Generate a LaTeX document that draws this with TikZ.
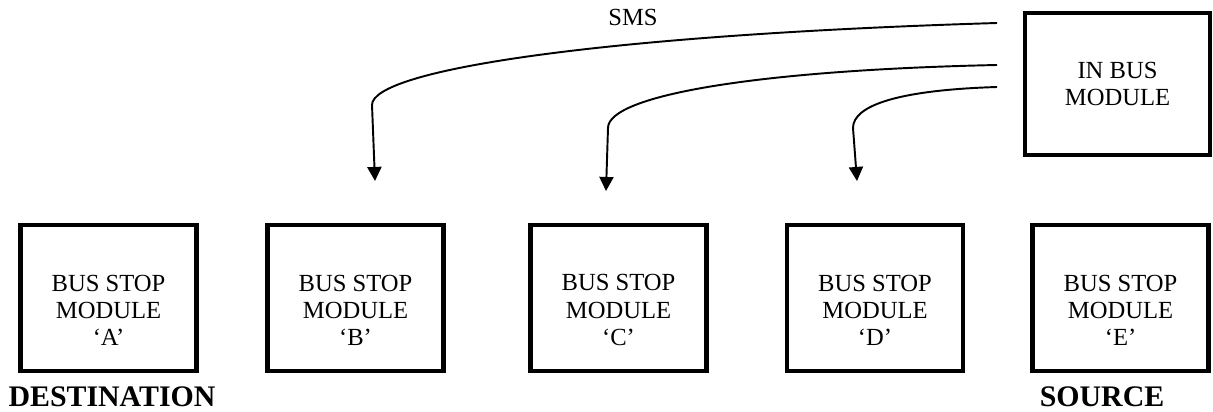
\documentclass[tikz,border=0pt]{standalone}
\usepackage{fontspec}
\setmainfont{Liberation Serif}
\usetikzlibrary{arrows.meta}
\begin{document}
\begin{tikzpicture}[x=0.02cm,y=-0.02cm,
  txt/.style={align=center,font=\fontsize{14}{15.6}\selectfont,inner sep=0pt},
  modbox/.style={draw,line width=2.4pt,txt},
  stopbox/.style={draw,line width=2.4pt,minimum width=3.52cm,minimum height=2.92cm,inner sep=0pt},
  stoptext/.style={txt,yshift=-7pt},
  sms/.style={line width=1.1pt,-{Triangle[length=8pt,width=8pt]}},
  caption/.style={font=\fontsize{17}{20}\selectfont\bfseries,inner sep=0pt}]
\useasboundingbox (0,0) rectangle (1213,412);
\node[modbox,minimum width=3.7cm,minimum height=2.84cm] (bus) at (1117.5,84) {IN BUS\\MODULE};
\node[stopbox,label={[stoptext,name=At]center:{BUS STOP\\MODULE\\`A'}}] (A) at (108.5,298) {};
\node[stopbox,label={[stoptext,name=Bt]center:{BUS STOP\\MODULE\\`B'}}] (B) at (355.5,298) {};
\node[stopbox,label={[stoptext,name=Ct]center:{BUS STOP\\MODULE\\`C'}}] (C) at (618.5,298) {};
\node[stopbox,label={[stoptext,name=Dt]center:{BUS STOP\\MODULE\\`D'}}] (D) at (875,298) {};
\node[stopbox,label={[stoptext,name=Et]center:{BUS STOP\\MODULE\\`E'}}] (E) at (1120.5,298) {};
\node[caption] (dest) at (112,397) {DESTINATION};
\node[caption] (src) at (1102,397) {SOURCE};
\node[txt] (smslbl) at (633,17) {SMS};
\coordinate (s1) at (997,23);
\coordinate (s2) at (997,65);
\coordinate (s3) at (997,87);
\coordinate (t1) at (375,181);
\coordinate (t2) at (606,191);
\coordinate (t3) at (857,181);
\draw[sms] (s1) .. controls (600,35) and (372,70) .. (372,105) -- (t1);
\draw[sms] (s2) .. controls (760,70) and (608,95) .. (608,128) -- (t2);
\draw[sms] (s3) .. controls (900,90) and (853,105) .. (853,128) -- (t3);
\end{tikzpicture}
\end{document}
